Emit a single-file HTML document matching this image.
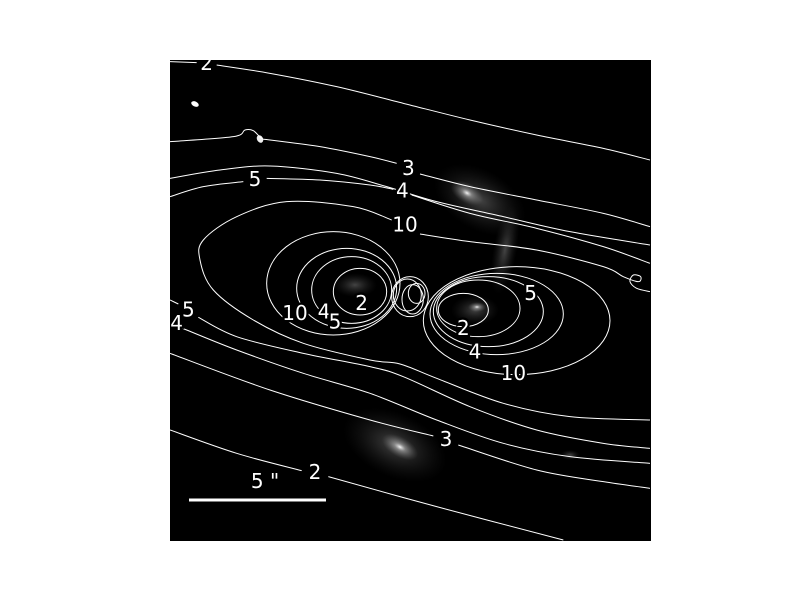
<!DOCTYPE html>
<html><head><meta charset="utf-8"><style>
html,body{margin:0;padding:0;background:#fff;width:800px;height:600px;overflow:hidden}
svg{display:block}
text{font-family:"DejaVu Sans","Liberation Sans",sans-serif;fill:#fff}
</style></head><body>
<svg width="800" height="600" viewBox="0 0 800 600">
<defs>
<radialGradient id="g1"><stop offset="0" stop-color="#fff" stop-opacity="0.95"/><stop offset="0.3" stop-color="#ccc" stop-opacity="0.5"/><stop offset="1" stop-color="#777" stop-opacity="0"/></radialGradient>
<radialGradient id="g2"><stop offset="0" stop-color="#aaa" stop-opacity="0.4"/><stop offset="1" stop-color="#444" stop-opacity="0"/></radialGradient>
<clipPath id="clip"><rect x="170" y="60" width="481" height="481"/></clipPath>
</defs>
<rect x="170" y="60" width="481" height="481" fill="#000"/>
<g clip-path="url(#clip)">
<ellipse cx="480" cy="200" rx="50" ry="30" fill="url(#g2)" transform="rotate(30 480 200)"/>
<ellipse cx="467" cy="193" rx="18" ry="10" fill="url(#g1)" transform="rotate(30 467 193)"/>
<ellipse cx="505" cy="250" rx="12" ry="45" fill="url(#g2)" transform="rotate(10 505 250)"/>
<ellipse cx="395" cy="445" rx="55" ry="32" fill="url(#g2)" transform="rotate(25 395 445)"/>
<ellipse cx="400" cy="447" rx="20" ry="10" fill="url(#g1)" transform="rotate(30 400 447)"/>
<ellipse cx="475" cy="310" rx="24" ry="15" fill="url(#g2)"/>
<ellipse cx="477" cy="307" rx="9" ry="5" fill="url(#g1)"/>
<ellipse cx="355" cy="285" rx="22" ry="12" fill="url(#g2)"/>
<ellipse cx="570" cy="455" rx="10" ry="5" fill="url(#g2)"/>
<ellipse cx="195" cy="104" rx="4" ry="2.5" fill="#fff" transform="rotate(25 195 104)"/>
<ellipse cx="260" cy="139" rx="3" ry="4" fill="#eee" transform="rotate(-30 260 139)"/>
</g>
<g clip-path="url(#clip)">
<g id="contours" transform="translate(170,60) scale(0.33333)" fill="none" stroke="#fff" stroke-width="3"></g>
<g id="labels" transform="translate(170,60) scale(0.33333)"></g>
</g>
<line x1="189" y1="500" x2="326" y2="500" stroke="#fff" stroke-width="3"/>
<text x="265" y="488" font-size="20" text-anchor="middle">5 "</text>
</svg>
<script>
// contour level labels shown on the map
const levelLabels = ["2","3","5","4","10","5","4","3","2","10","4","5","2","5","2","4","10"];
const labelPos = [[110,10],[715,325],[255,358],[697,392],[705,495],[55,750],[20,790],[828,1138],[435,1237],[375,760],[462,755],[495,785],[575,730],[1082,700],[880,805],[915,875],[1030,940]];
const lines = [
 [[0,5],[80,8]],[[140,15],[300,40],[500,80],[700,130],[900,180],[1100,225],[1300,265],[1440,300]],
 [[0,245],[190,230],[225,210],[250,212],[275,235],[300,240],[450,260],[600,290],[680,310]],[[750,342],[900,380],[1100,420],[1300,460],[1440,500]],
 [[0,410],[100,380],[220,365]],[[290,355],[450,360],[600,375],[670,388]],[[725,405],[900,460],[1100,505],[1300,560],[1440,610]],
 [[0,355],[150,330],[300,318],[500,340],[650,380],[800,425],[1000,470],[1200,515],[1440,555]],
 [[1440,695],[1400,685],[1380,665],[1390,645],[1412,650],[1405,665],[1360,650],[1300,620],[1100,570],[900,545],[750,522]],
 [[665,480],[550,440],[350,425],[200,470],[100,540],[90,600],[130,690],[250,780],[400,850],[600,900],[690,912],[800,955],[1000,1030],[1200,1070],[1440,1080]],
 [[0,720],[25,732]],[[85,772],[200,830],[400,880],[600,920],[700,950],[900,1040],[1100,1110],[1300,1150],[1440,1165]],
 [[0,790],[50,810],[200,870],[400,940],[600,1000],[800,1080],[1000,1150],[1200,1190],[1440,1210]],
 [[0,880],[300,990],[600,1080],[790,1128]],[[865,1155],[1100,1230],[1300,1265],[1440,1285]],
 [[0,1110],[200,1180],[395,1232]],[[475,1250],[800,1340],[1180,1440]]
];
// lobes: [cx, cy, rx, ry]
const lobes = [[490,670,200,155],[530,685,150,120],[545,690,120,100],[570,695,80,70],[1040,782,280,162],[980,762,200,122],[955,755,165,105],[925,745,125,85],[880,750,75,50],[720,710,55,60],[712,705,42,48],[728,718,32,44],[740,700,25,30]];
const NS="http://www.w3.org/2000/svg";
const cg=document.getElementById('contours');
function smooth(p){let d="M"+p[0][0]+","+p[0][1];
 for(let i=0;i<p.length-1;i++){const p0=p[i-1]||p[i],p1=p[i],p2=p[i+1],p3=p[i+2]||p2;
  d+=" C"+(p1[0]+(p2[0]-p0[0])/6)+","+(p1[1]+(p2[1]-p0[1])/6)+" "+(p2[0]-(p3[0]-p1[0])/6)+","+(p2[1]-(p3[1]-p1[1])/6)+" "+p2[0]+","+p2[1];}
 return d;}
lines.forEach(l=>{const e=document.createElementNS(NS,'path');e.setAttribute('d',smooth(l));


cg.appendChild(e);});
lobes.forEach(o=>{const e=document.createElementNS(NS,'ellipse');e.setAttribute('cx',o[0]);e.setAttribute('cy',o[1]);e.setAttribute('rx',o[2]);e.setAttribute('ry',o[3]);


cg.appendChild(e);});
const lg=document.getElementById('labels');
levelLabels.forEach((t,i)=>{const e=document.createElementNS(NS,'text');e.setAttribute('x',labelPos[i][0]);e.setAttribute('y',labelPos[i][1]+20);e.setAttribute('font-size','60');e.setAttribute('text-anchor','middle');
e.setAttribute('stroke','#000');e.setAttribute('stroke-width','14');e.setAttribute('paint-order','stroke');
e.textContent=t;


lg.appendChild(e);});
</script>
</body></html>
